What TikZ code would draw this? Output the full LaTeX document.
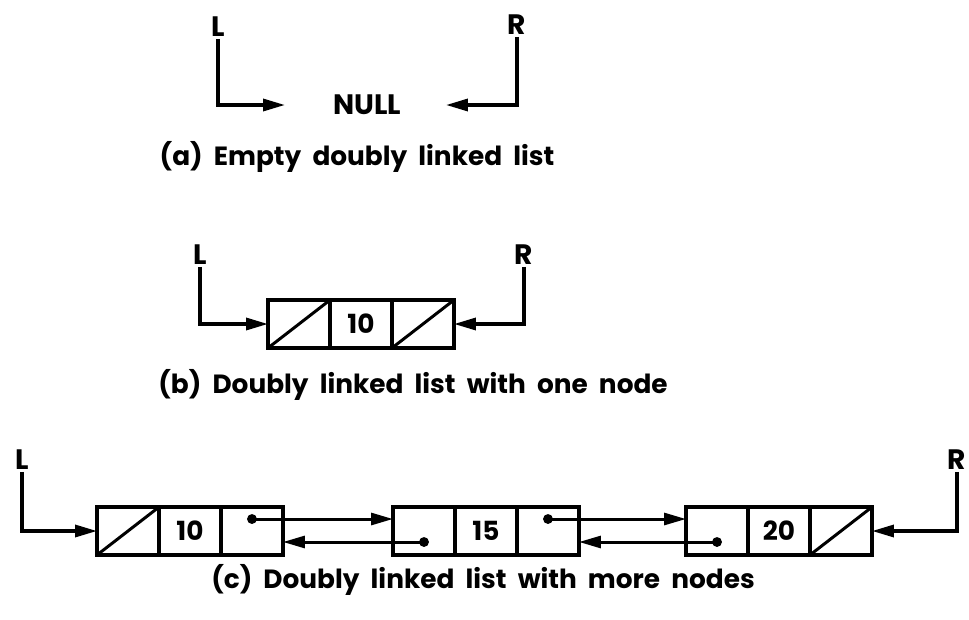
\documentclass[tikz,border=0pt]{standalone}
\usepackage{fontspec}
\setmainfont{Poppins}
\usetikzlibrary{arrows.meta, positioning}
\tikzset{
  cell/.style={draw, line width=2pt, minimum width=1.24cm, minimum height=0.96cm,
               inner sep=0pt, outer sep=0pt, font=\fontsize{15}{17}\selectfont\bfseries},
  ptr/.style={-{Triangle[length=4.4mm, width=2.4mm]}, line width=1.9pt},
  link/.style={{Circle[length=5.5pt]}-{Triangle[length=4.4mm, width=2.4mm]},
               line width=1.7pt, shorten <=-2.75pt},
  slash/.style={line width=1.7pt},
  lbl/.style={font=\fontsize{16}{18}\selectfont\bfseries, inner sep=1pt},
  caption/.style={font=\fontsize{15}{17}\selectfont\bfseries, inner sep=0pt}
}
% one list node: prev | data | next
\newcommand{\dllnode}[3]{%
  \node[cell] (#1p) at (#2) {};
  \node[cell, right=0pt of #1p] (#1d) {#3};
  \node[cell, right=0pt of #1d] (#1n) {};}

\begin{document}
\begin{tikzpicture}[x=0.02cm, y=-0.02cm]
  \useasboundingbox (0,0) rectangle (969,619);

  % (a) empty list
  \node[lbl] (La) at (218,27) {L};
  \node[lbl] (Ra) at (517,25) {R};
  \node[lbl] (null) at (367,105) {NULL};
  \draw[ptr] (La.south) |- ([xshift=-0.92cm]null.west);
  \draw[ptr] (Ra.south) |- ([xshift=0.86cm]null.east);
  \node[caption] (capa) at (357,157) {(a)\ \ Empty\ \ doubly\ \ linked\ \ list};

  % (b) one node
  \dllnode{b}{299,324}{10}
  \draw[slash] (bp.south west) -- (bp.north east);
  \draw[slash] (bn.south west) -- (bn.north east);
  \node[lbl] (Lb) at (200,255) {L};
  \node[lbl] (Rb) at (524,255) {R};
  \draw[ptr] (Lb.south) |- (bp.west);
  \draw[ptr] (Rb.south) |- (bn.east);
  \node[caption] (capb) at (413,385) {(b)\ \ Doubly\ \ linked\ \ list\ \ with\ \ one\ \ node};

  % (c) more nodes
  \dllnode{c1}{128,531}{10}
  \dllnode{c2}{424,531}{15}
  \dllnode{c3}{717,531}{20}
  \draw[slash] (c1p.south west) -- (c1p.north east);
  \draw[slash] (c3n.south west) -- (c3n.north east);
  \node[lbl] (Lc) at (22,460) {L};
  \node[lbl] (Rc) at (957,460) {R};
  \draw[ptr] (Lc.south) |- (c1p.west);
  \draw[ptr] (Rc.south) |- (c3n.east);
  \draw[link] ([yshift=0.24cm]c1n.center) -- ([yshift=0.24cm]c2p.west);
  \draw[link] ([yshift=-0.22cm]c2p.center) -- ([yshift=-0.22cm]c1n.east);
  \draw[link] ([yshift=0.24cm]c2n.center) -- ([yshift=0.24cm]c3p.west);
  \draw[link] ([yshift=-0.22cm]c3p.center) -- ([yshift=-0.22cm]c2n.east);
  \node[caption] (capc) at (483,580) {(c)\ \ Doubly\ \ linked\ \ list\ \ with\ \ more\ \ nodes};
\end{tikzpicture}
\end{document}
